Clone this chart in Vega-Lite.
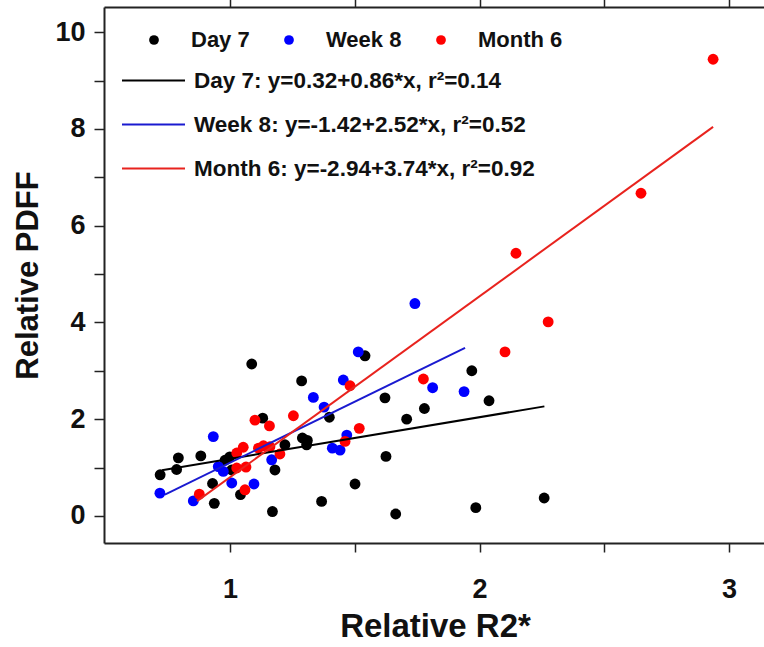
{
  "$schema": "https://vega.github.io/schema/vega-lite/v6.json",
  "width": 662,
  "height": 536,
  "autosize": {"type": "none"},
  "padding": {"left": 104, "top": 7, "right": 0, "bottom": 104},
  "background": "white",
  "config": {
    "view": {"stroke": null},
    "font": "Liberation Sans",
    "axis": {
      "grid": false,
      "domainColor": "#222222",
      "domainWidth": 2,
      "tickColor": "#222222",
      "tickWidth": 1.5,
      "labelColor": "#111111",
      "labelFont": "Liberation Sans",
      "labelFontWeight": "bold",
      "labelFontSize": 27,
      "titleColor": "#111111",
      "titleFont": "Liberation Sans",
      "titleFontWeight": "bold",
      "titleFontSize": 31
    },
    "legend": {
      "labelFont": "Liberation Sans",
      "labelFontWeight": "bold",
      "labelFontSize": 22,
      "labelColor": "#111111",
      "labelLimit": 0,
      "padding": 0,
      "title": null
    }
  },
  "datasets": {
    "points": [
      {"group": "Day 7", "r2": 0.72, "pdff": 0.85},
      {"group": "Day 7", "r2": 0.786, "pdff": 0.96},
      {"group": "Day 7", "r2": 0.793, "pdff": 1.2},
      {"group": "Day 7", "r2": 0.883, "pdff": 1.24},
      {"group": "Day 7", "r2": 0.93, "pdff": 0.67},
      {"group": "Day 7", "r2": 0.937, "pdff": 0.26},
      {"group": "Day 7", "r2": 0.98, "pdff": 1.15},
      {"group": "Day 7", "r2": 0.999, "pdff": 1.22},
      {"group": "Day 7", "r2": 1.007, "pdff": 0.95},
      {"group": "Day 7", "r2": 1.042, "pdff": 0.44},
      {"group": "Day 7", "r2": 1.087, "pdff": 3.14},
      {"group": "Day 7", "r2": 1.131, "pdff": 2.02},
      {"group": "Day 7", "r2": 1.17, "pdff": 0.09},
      {"group": "Day 7", "r2": 1.18, "pdff": 0.95},
      {"group": "Day 7", "r2": 1.22, "pdff": 1.47},
      {"group": "Day 7", "r2": 1.287, "pdff": 2.79},
      {"group": "Day 7", "r2": 1.29, "pdff": 1.61},
      {"group": "Day 7", "r2": 1.31, "pdff": 1.56},
      {"group": "Day 7", "r2": 1.307, "pdff": 1.47},
      {"group": "Day 7", "r2": 1.367, "pdff": 0.3},
      {"group": "Day 7", "r2": 1.398, "pdff": 2.04},
      {"group": "Day 7", "r2": 1.501, "pdff": 0.66},
      {"group": "Day 7", "r2": 1.541, "pdff": 3.31},
      {"group": "Day 7", "r2": 1.621, "pdff": 2.44},
      {"group": "Day 7", "r2": 1.625, "pdff": 1.23},
      {"group": "Day 7", "r2": 1.664, "pdff": 0.04},
      {"group": "Day 7", "r2": 1.708, "pdff": 2.0},
      {"group": "Day 7", "r2": 1.779, "pdff": 2.22},
      {"group": "Day 7", "r2": 1.969, "pdff": 3.0},
      {"group": "Day 7", "r2": 1.985, "pdff": 0.17},
      {"group": "Day 7", "r2": 2.038, "pdff": 2.38},
      {"group": "Day 7", "r2": 2.259, "pdff": 0.37},
      {"group": "Week 8", "r2": 0.719, "pdff": 0.47},
      {"group": "Week 8", "r2": 0.853, "pdff": 0.31},
      {"group": "Week 8", "r2": 0.933, "pdff": 1.64},
      {"group": "Week 8", "r2": 0.953, "pdff": 1.02},
      {"group": "Week 8", "r2": 0.973, "pdff": 0.92},
      {"group": "Week 8", "r2": 1.007, "pdff": 0.68},
      {"group": "Week 8", "r2": 1.096, "pdff": 0.66},
      {"group": "Week 8", "r2": 1.167, "pdff": 1.16},
      {"group": "Week 8", "r2": 1.334, "pdff": 2.45},
      {"group": "Week 8", "r2": 1.377, "pdff": 2.25},
      {"group": "Week 8", "r2": 1.41, "pdff": 1.4},
      {"group": "Week 8", "r2": 1.441, "pdff": 1.36},
      {"group": "Week 8", "r2": 1.454, "pdff": 2.81},
      {"group": "Week 8", "r2": 1.468, "pdff": 1.67},
      {"group": "Week 8", "r2": 1.514, "pdff": 3.39},
      {"group": "Week 8", "r2": 1.741, "pdff": 4.39},
      {"group": "Week 8", "r2": 1.812, "pdff": 2.65},
      {"group": "Week 8", "r2": 1.938, "pdff": 2.57},
      {"group": "Month 6", "r2": 0.877, "pdff": 0.45},
      {"group": "Month 6", "r2": 1.027, "pdff": 0.99},
      {"group": "Month 6", "r2": 1.027, "pdff": 1.3},
      {"group": "Month 6", "r2": 1.053, "pdff": 1.42},
      {"group": "Month 6", "r2": 1.06, "pdff": 0.54},
      {"group": "Month 6", "r2": 1.064, "pdff": 1.01},
      {"group": "Month 6", "r2": 1.1, "pdff": 1.98},
      {"group": "Month 6", "r2": 1.114, "pdff": 1.4},
      {"group": "Month 6", "r2": 1.134, "pdff": 1.45},
      {"group": "Month 6", "r2": 1.158, "pdff": 1.86},
      {"group": "Month 6", "r2": 1.16, "pdff": 1.43},
      {"group": "Month 6", "r2": 1.2, "pdff": 1.28},
      {"group": "Month 6", "r2": 1.254, "pdff": 2.07},
      {"group": "Month 6", "r2": 1.461, "pdff": 1.54},
      {"group": "Month 6", "r2": 1.481, "pdff": 2.69},
      {"group": "Month 6", "r2": 1.518, "pdff": 1.81},
      {"group": "Month 6", "r2": 1.775, "pdff": 2.83},
      {"group": "Month 6", "r2": 2.102, "pdff": 3.39},
      {"group": "Month 6", "r2": 2.146, "pdff": 5.43},
      {"group": "Month 6", "r2": 2.275, "pdff": 4.01},
      {"group": "Month 6", "r2": 2.647, "pdff": 6.67},
      {"group": "Month 6", "r2": 2.936, "pdff": 9.44}
    ],
    "fits": [
      {"fit": "Day 7: y=0.32+0.86*x, r²=0.14", "r2": 0.727, "pdff": 0.945},
      {"fit": "Day 7: y=0.32+0.86*x, r²=0.14", "r2": 2.26, "pdff": 2.264},
      {"fit": "Week 8: y=-1.42+2.52*x, r²=0.52", "r2": 0.739, "pdff": 0.442},
      {"fit": "Week 8: y=-1.42+2.52*x, r²=0.52", "r2": 1.942, "pdff": 3.474},
      {"fit": "Month 6: y=-2.94+3.74*x, r²=0.92", "r2": 0.868, "pdff": 0.306},
      {"fit": "Month 6: y=-2.94+3.74*x, r²=0.92", "r2": 2.936, "pdff": 8.041}
    ]
  },
  "layer": [
    {
      "data": {"name": "points"},
      "mark": {"type": "circle", "size": 118, "opacity": 1},
      "encoding": {
        "x": {
          "field": "r2",
          "type": "quantitative",
          "scale": {"domain": [0.495, 3.148], "nice": false, "zero": false},
          "axis": {
            "orient": "bottom",
            "title": "Relative R2*",
            "titleFontSize": 33,
            "values": [1, 1.5, 2, 2.5, 3],
            "labelExpr": "datum.value % 1 === 0 ? format(datum.value, 'd') : ''",
            "tickSize": 9,
            "labelPadding": 24,
            "titlePadding": 8,
            "encode": {"ticks": {"update": {"y2": {"signal": "datum.value % 1 !== 0 ? 5 : 9"}}}}
          }
        },
        "y": {
          "field": "pdff",
          "type": "quantitative",
          "scale": {"domain": [-0.56, 10.52], "nice": false, "zero": false},
          "axis": {
            "orient": "left",
            "title": "Relative PDFF",
            "values": [0, 1, 2, 3, 4, 5, 6, 7, 8, 9, 10],
            "labelExpr": "datum.value % 2 === 0 ? datum.label : ''",
            "tickSize": 10,
            "labelPadding": 9,
            "titlePadding": 10,
            "encode": {"ticks": {"update": {"x2": {"signal": "datum.value % 2 !== 0 ? -5 : -10"}}}}
          }
        },
        "fill": {
          "field": "group",
          "type": "nominal",
          "scale": {"domain": ["Day 7", "Week 8", "Month 6"], "range": ["#000000", "#0000ff", "#ff0000"]},
          "legend": {
            "orient": "none",
            "legendX": 39,
            "legendY": 22,
            "direction": "horizontal",
            "symbolType": "circle",
            "symbolSize": 95,
            "symbolStrokeWidth": 0,
            "labelOffset": 26,
            "columnPadding": 28,
            "clipHeight": 22
          }
        }
      }
    },
    {
      "data": {"name": "fits"},
      "mark": {"type": "line", "strokeWidth": 2},
      "encoding": {
        "x": {
          "field": "r2",
          "type": "quantitative",
          "scale": {"domain": [0.495, 3.148], "nice": false, "zero": false},
          "axis": {
            "orient": "top",
            "title": null,
            "values": [1, 1.5, 2, 2.5, 3],
            "labels": false,
            "tickSize": 9,
            "encode": {"ticks": {"update": {"y2": {"signal": "datum.value % 1 !== 0 ? 5 : 9"}}}}
          }
        },
        "y": {
          "field": "pdff",
          "type": "quantitative",
          "scale": {"domain": [-0.56, 10.52], "nice": false, "zero": false},
          "axis": {
            "orient": "right",
            "title": null,
            "values": [0, 1, 2, 3, 4, 5, 6, 7, 8, 9, 10],
            "labels": false,
            "tickSize": 9,
            "encode": {"ticks": {"update": {"x2": {"signal": "datum.value % 2 !== 0 ? -5 : -9"}}}}
          }
        },
        "stroke": {
          "field": "fit",
          "type": "nominal",
          "scale": {
            "domain": ["Day 7: y=0.32+0.86*x, r²=0.14", "Week 8: y=-1.42+2.52*x, r²=0.52", "Month 6: y=-2.94+3.74*x, r²=0.92"],
            "range": ["#000000", "#1a1ad0", "#e8231e"]
          },
          "legend": {
            "orient": "none",
            "legendX": 17,
            "legendY": 62,
            "direction": "vertical",
            "symbolType": "stroke",
            "symbolSize": 3969,
            "symbolStrokeWidth": 2,
            "labelOffset": 8,
            "labelFontSize": 22.5,
            "rowPadding": 21,
            "clipHeight": 23
          }
        }
      }
    }
  ],
  "resolve": {"axis": {"x": "independent", "y": "independent"}}
}
